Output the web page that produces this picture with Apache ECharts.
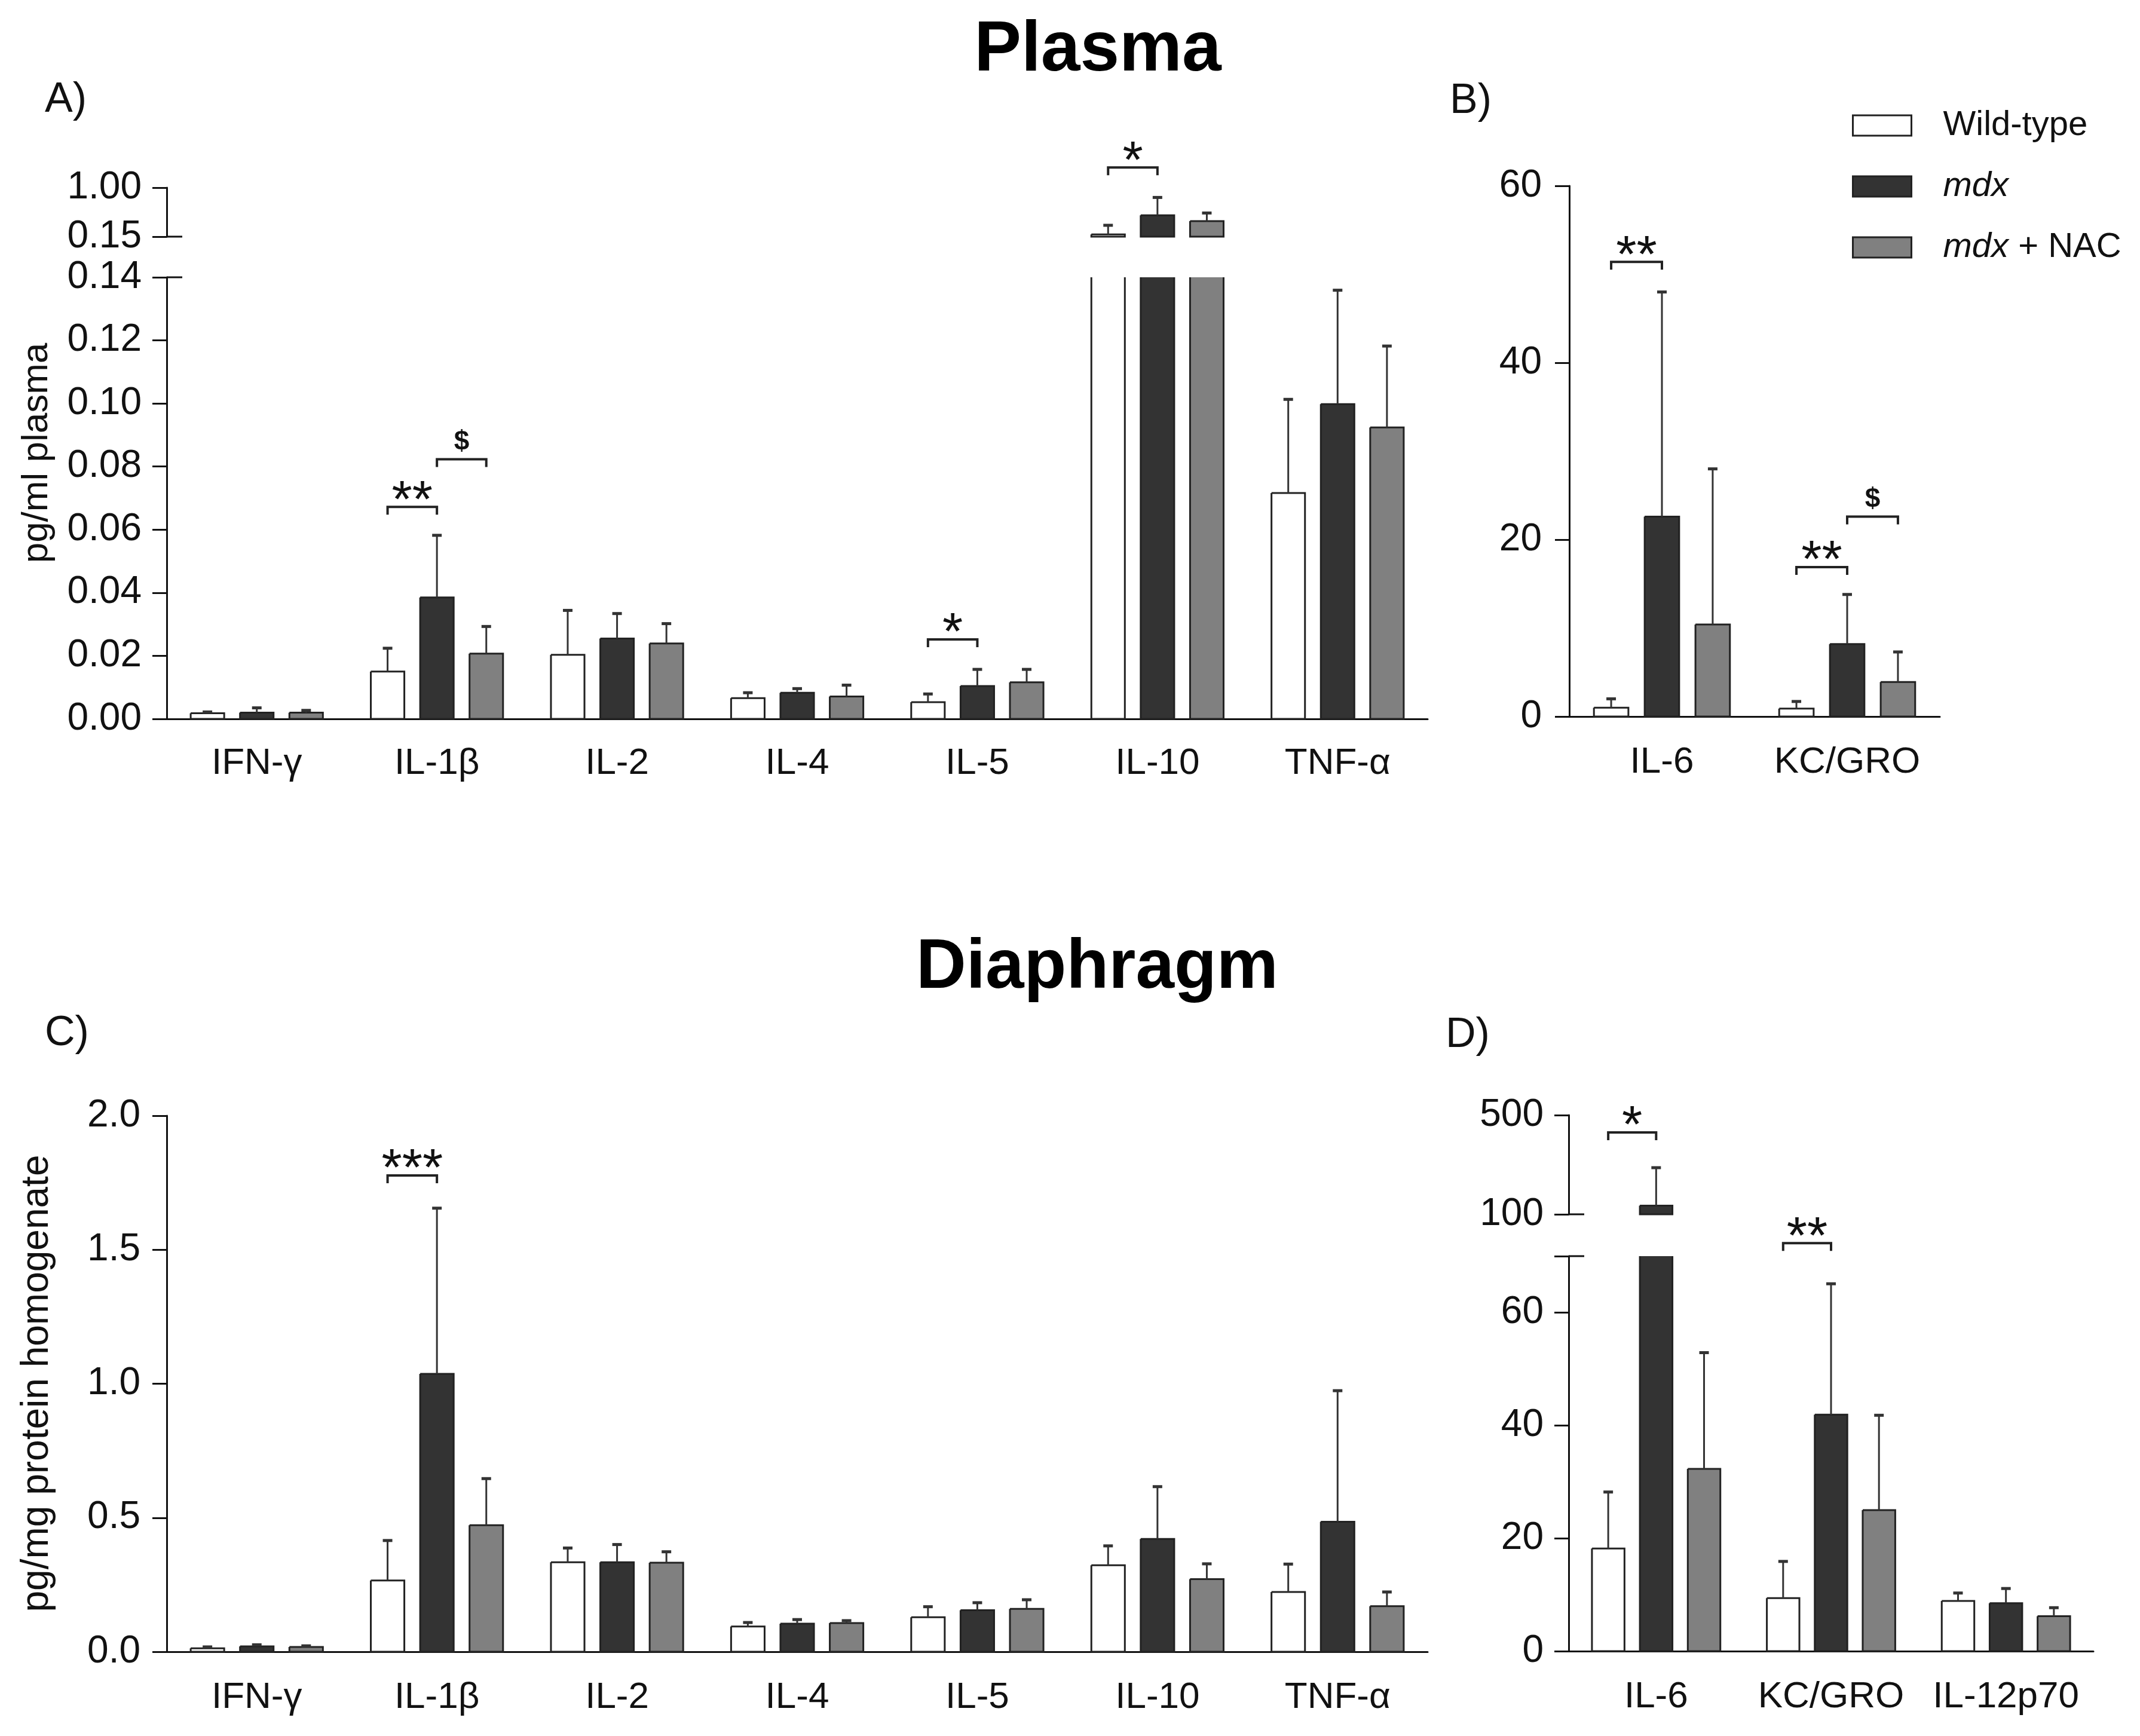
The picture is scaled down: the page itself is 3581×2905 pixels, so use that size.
<!DOCTYPE html>
<html>
<head>
    <meta charset="utf-8">
    <script src="https://cdn.jsdelivr.net/npm/echarts@6.0.0/dist/echarts.min.js"></script>
    <style type="text/css">
        html, body { margin: 0; padding: 0; background: #fff; }
        #main { width: 3581px; height: 2905px; }
    </style>
</head>
<body>
    <div id="main"></div>
    <script>
        // ---- data (mean and SD, error bar drawn upward only) ----
        var groupNames = ['Wild-type', 'mdx', 'mdx + NAC'];

        // Plasma, panel A (pg/ml plasma)
        var catsA = ['IFN-γ', 'IL-1β', 'IL-2', 'IL-4', 'IL-5', 'IL-10', 'TNF-α'];
        var wtA = [0.0018, 0.0150, 0.0203, 0.0066, 0.0053, 0.19, 0.0716];
        var wtA_sd = [0.0004, 0.0074, 0.0141, 0.0017, 0.0026, 0.157, 0.0297];
        var mdxA = [0.0020, 0.0385, 0.0255, 0.0083, 0.0104, 0.52, 0.0998];
        var mdxA_sd = [0.0015, 0.0197, 0.0079, 0.0013, 0.0053, 0.31, 0.0361];
        var nacA = [0.0020, 0.0207, 0.0239, 0.0071, 0.0116, 0.42, 0.0924];
        var nacA_sd = [0.0007, 0.0086, 0.0063, 0.0036, 0.0041, 0.14, 0.0258];

        // Plasma, panel B
        var catsB = ['IL-6', 'KC/GRO'];
        var wtB = [1.0, 0.9];
        var wtB_sd = [1.0, 0.8];
        var mdxB = [22.6, 8.2];
        var mdxB_sd = [25.4, 5.6];
        var nacB = [10.4, 3.9];
        var nacB_sd = [17.6, 3.4];

        // Diaphragm, panel C (pg/mg protein homogenate)
        var catsC = ['IFN-γ', 'IL-1β', 'IL-2', 'IL-4', 'IL-5', 'IL-10', 'TNF-α'];
        var wtC = [0.013, 0.266, 0.334, 0.094, 0.129, 0.323, 0.223];
        var wtC_sd = [0.005, 0.149, 0.053, 0.015, 0.039, 0.072, 0.104];
        var mdxC = [0.020, 1.037, 0.334, 0.105, 0.155, 0.421, 0.485];
        var mdxC_sd = [0.006, 0.618, 0.066, 0.015, 0.028, 0.195, 0.489];
        var nacC = [0.018, 0.472, 0.332, 0.107, 0.160, 0.271, 0.170];
        var nacC_sd = [0.004, 0.174, 0.041, 0.009, 0.034, 0.057, 0.053];

        // Diaphragm, panel D
        var catsD = ['IL-6', 'KC/GRO', 'IL-12p70'];
        var wtD = [18.2, 9.4, 8.9];
        var wtD_sd = [10.0, 6.5, 1.4];
        var mdxD = [135, 41.9, 8.5];
        var mdxD_sd = [153, 23.2, 2.6];
        var nacD = [32.3, 25.0, 6.2];
        var nacD_sd = [20.6, 16.8, 1.5];

        // significance brackets: [category, from group, to group, height, mark]
        var sigA = [[1, 0, 1, 0.0672, '**'], [1, 1, 2, 0.0823, '$'], [4, 0, 1, 0.0252, '*']];
        var sigAHigh = [[5, 0, 1, 1.35, '*']];
        var sigB = [[0, 0, 1, 51.4, '**'], [1, 0, 1, 16.9, '**'], [1, 1, 2, 22.6, '$']];
        var sigC = [[1, 0, 1, 1.777, '***']];
        var sigDLow = [[1, 0, 1, 72.3, '**']];
        var sigDHigh = [[0, 0, 1, 430, '*']];

        // axis breaks (value where a segment is cut)
        var breakA = [0.14, 0.15];
        var breakD = [70, 100];

        // ---- styling ----
        var FONT = 'Liberation Sans, Arial, sans-serif';
        var fills = ['#ffffff', '#333333', '#808080'];
        var EDGE = '#222';
        var BAR_W = 0.186;   // bar width as a share of the category band
        var BAR_STEP = 0.274; // distance between bar centres

        function clamp(v, a, b) { return Math.max(a, Math.min(b, v)); }

        function barRenderer(k) {
            return function (params, api) {
                var ci = api.value(0), v = api.value(1), hi = api.value(2);
                var cs = params.coordSys;
                var band = api.size([1, 0])[0];
                var w = band * BAR_W;
                var cx = api.coord([ci, 0])[0] + (k - 1) * band * BAR_STEP;
                var gTop = cs.y, gBot = cs.y + cs.height;
                var y0 = clamp(api.coord([ci, 0])[1], gTop, gBot);
                var yv = api.coord([ci, v])[1];
                var y1 = clamp(yv, gTop, gBot);
                if (y0 - y1 < 0.5) return null;
                var l = cx - w / 2, r = cx + w / 2;
                var kids = [{
                    type: 'rect',
                    shape: { x: l, y: y1, width: w, height: y0 - y1 },
                    style: { fill: fills[k], stroke: null }
                }];
                var pts = yv < gTop
                    ? [[l, y1], [l, y0], [r, y0], [r, y1]]       // cut by the break: open top
                    : [[l, y1], [l, y0], [r, y0], [r, y1], [l, y1]];
                kids.push({
                    type: 'polyline',
                    shape: { points: pts },
                    style: { stroke: EDGE, lineWidth: 3, fill: null }
                });
                if (yv >= gTop && hi > v) {
                    var yh = api.coord([ci, hi])[1];
                    kids.push({
                        type: 'line',
                        shape: { x1: cx, y1: y1, x2: cx, y2: yh },
                        style: { stroke: '#333', lineWidth: 3 }
                    });
                    kids.push({
                        type: 'line',
                        shape: { x1: cx - 8, y1: yh, x2: cx + 8, y2: yh },
                        style: { stroke: '#333', lineWidth: 5 }
                    });
                }
                return { type: 'group', children: kids };
            };
        }

        function bracketRenderer(list) {
            return function (params, api) {
                var b = list[params.dataIndex];
                var band = api.size([1, 0])[0];
                var c = api.coord([b[0], b[3]]);
                var xa = c[0] + (b[1] - 1) * band * BAR_STEP;
                var xb = c[0] + (b[2] - 1) * band * BAR_STEP;
                var y = c[1];
                var star = b[4] !== '$';
                return {
                    type: 'group',
                    children: [{
                        type: 'polyline',
                        shape: { points: [[xa, y + 13], [xa, y], [xb, y], [xb, y + 13]] },
                        style: { stroke: '#222', lineWidth: 4, fill: null }
                    }, {
                        type: 'text',
                        x: (xa + xb) / 2,
                        y: star ? y - 8 : y - 28,
                        style: {
                            text: b[4], fill: '#111', fontFamily: FONT,
                            fontSize: star ? 88 : 46, fontWeight: star ? 'normal' : 'bold',
                            align: 'center', verticalAlign: 'middle'
                        }
                    }]
                };
            };
        }

        function breakRenderer(params, api) {
            var cs = params.coordSys;
            var y = api.coord([0, api.value(1)])[1];
            return {
                type: 'line',
                shape: { x1: cs.x, y1: y, x2: cs.x + 26, y2: y },
                style: { stroke: '#111', lineWidth: 3 }
            };
        }

        function groupSeries(axis, cats, means, sds) {
            return groupNames.map(function (name, k) {
                return {
                    type: 'custom',
                    name: name,
                    xAxisIndex: axis, yAxisIndex: axis,
                    itemStyle: { color: fills[k], borderColor: EDGE, borderWidth: 3 },
                    renderItem: barRenderer(k),
                    data: cats.map(function (c, i) {
                        return [i, means[k][i], means[k][i] + sds[k][i]];
                    }),
                    silent: true
                };
            });
        }

        function bracketSeries(axis, list) {
            return {
                type: 'custom',
                xAxisIndex: axis, yAxisIndex: axis,
                renderItem: bracketRenderer(list),
                encode: { x: 0, y: 3 },
                data: list.map(function (b) { return [b[0], b[1], b[2], b[3]]; }),
                clip: false,
                silent: true
            };
        }

        function breakSeries(axis, v) {
            return {
                type: 'custom',
                xAxisIndex: axis, yAxisIndex: axis,
                renderItem: breakRenderer,
                data: [[0, v]],
                clip: false,
                silent: true
            };
        }

        function xAx(grid, cats, show, margin) {
            return {
                gridIndex: grid, type: 'category', data: cats, show: show,
                axisLine: { lineStyle: { color: '#111', width: 3 } },
                axisTick: { alignWithLabel: true, length: 24, lineStyle: { color: '#111', width: 3 } },
                axisLabel: { fontSize: 62, fontFamily: FONT, color: '#111', margin: margin, interval: 0, hideOverlap: false },
                splitLine: { show: false }
            };
        }

        function yAx(grid, min, max, interval, digits, margin, hideVal) {
            return {
                gridIndex: grid, type: 'value', min: min, max: max, interval: interval,
                axisLine: { show: true, lineStyle: { color: '#111', width: 3 } },
                axisTick: { show: true, length: 24, lineStyle: { color: '#111', width: 3 } },
                axisLabel: {
                    fontSize: 64, fontFamily: FONT, color: '#111', margin: margin,
                    formatter: function (v) {
                        if (hideVal !== undefined && Math.abs(v - hideVal) < 1e-9) return '';
                        return v.toFixed(digits);
                    }
                },
                splitLine: { show: false }
            };
        }

        var myChart = echarts.init(document.getElementById('main'), null, { renderer: 'canvas' });

        var series = [].concat(
            groupSeries(0, catsA, [wtA, mdxA, nacA], [wtA_sd, mdxA_sd, nacA_sd]),
            groupSeries(1, catsA, [wtA, mdxA, nacA], [wtA_sd, mdxA_sd, nacA_sd]),
            groupSeries(2, catsB, [wtB, mdxB, nacB], [wtB_sd, mdxB_sd, nacB_sd]),
            groupSeries(3, catsC, [wtC, mdxC, nacC], [wtC_sd, mdxC_sd, nacC_sd]),
            groupSeries(4, catsD, [wtD, mdxD, nacD], [wtD_sd, mdxD_sd, nacD_sd]),
            groupSeries(5, catsD, [wtD, mdxD, nacD], [wtD_sd, mdxD_sd, nacD_sd]),
            [
                bracketSeries(0, sigA), bracketSeries(1, sigAHigh), bracketSeries(2, sigB),
                bracketSeries(3, sigC), bracketSeries(4, sigDLow), bracketSeries(5, sigDHigh),
                breakSeries(0, breakA[0]), breakSeries(1, breakA[1]),
                breakSeries(4, breakD[0]), breakSeries(5, breakD[1])
            ]
        );

        var option = {
            animation: false,
            backgroundColor: '#fff',
            textStyle: { fontFamily: FONT },
            grid: [
                { left: 279, top: 464, width: 2110, height: 739 },   // A, lower segment
                { left: 279, top: 314, width: 2110, height: 82 },    // A, upper segment
                { left: 2626, top: 311, width: 620, height: 888 },   // B
                { left: 279, top: 1867, width: 2110, height: 897 },  // C
                { left: 2625, top: 2102, width: 878, height: 661 },  // D, lower segment
                { left: 2625, top: 1866, width: 878, height: 166 }   // D, upper segment
            ],
            xAxis: [
                xAx(0, catsA, true, 44),
                xAx(1, catsA, false, 44),
                xAx(2, catsB, true, 46),
                xAx(3, catsC, true, 46),
                xAx(4, catsD, true, 46),
                xAx(5, catsD, false, 46)
            ],
            yAxis: [
                yAx(0, 0, 0.14, 0.02, 2, 42),
                yAx(1, 0.15, 1.00, 0.85, 2, 42),
                yAx(2, 0, 60, 20, 0, 46),
                yAx(3, 0, 2, 0.5, 1, 44),
                yAx(4, 0, 70, 20, 0, 42, 70),
                yAx(5, 100, 500, 400, 0, 42)
            ],
            legend: {
                orient: 'vertical',
                left: 3094, top: 175,
                itemWidth: 98, itemHeight: 34, itemGap: 42,
                icon: 'rect',
                selectedMode: false,
                data: groupNames.map(function (n, k) {
                    return { name: n, itemStyle: { color: fills[k], borderColor: EDGE, borderWidth: 3 } };
                }),
                formatter: function (name) {
                    if (name === 'Wild-type') return '{s| }{n|Wild-type}';
                    if (name === 'mdx') return '{s| }{i|mdx}';
                    return '{s| }{i|mdx}{n| + NAC}';
                },
                textStyle: {
                    fontFamily: FONT, fontSize: 58, lineHeight: 60, color: '#111',
                    rich: {
                        s: { width: 48 },
                        n: { fontSize: 58, fontFamily: FONT, color: '#111' },
                        i: { fontSize: 58, fontFamily: FONT, fontStyle: 'italic', color: '#111' }
                    }
                }
            },
            graphic: [
                { type: 'text', x: 1837, y: 85, style: { text: 'Plasma', fontSize: 118, fontWeight: 'bold', fontFamily: FONT, fill: '#000', align: 'center', verticalAlign: 'middle' } },
                { type: 'text', x: 1836, y: 1621, style: { text: 'Diaphragm', fontSize: 116, fontWeight: 'bold', fontFamily: FONT, fill: '#000', align: 'center', verticalAlign: 'middle' } },
                { type: 'text', x: 75, y: 168, style: { text: 'A)', fontSize: 70, fontFamily: FONT, fill: '#111', align: 'left', verticalAlign: 'middle' } },
                { type: 'text', x: 2426, y: 170, style: { text: 'B)', fontSize: 70, fontFamily: FONT, fill: '#111', align: 'left', verticalAlign: 'middle' } },
                { type: 'text', x: 75, y: 1730, style: { text: 'C)', fontSize: 70, fontFamily: FONT, fill: '#111', align: 'left', verticalAlign: 'middle' } },
                { type: 'text', x: 2419, y: 1733, style: { text: 'D)', fontSize: 70, fontFamily: FONT, fill: '#111', align: 'left', verticalAlign: 'middle' } },
                { type: 'text', x: 62, y: 758, rotation: Math.PI / 2, style: { text: 'pg/ml plasma', fontSize: 62, fontFamily: FONT, fill: '#111', align: 'center', verticalAlign: 'middle' } },
                { type: 'text', x: 62, y: 2315, rotation: Math.PI / 2, style: { text: 'pg/mg protein homogenate', fontSize: 64, fontFamily: FONT, fill: '#111', align: 'center', verticalAlign: 'middle' } }
            ],
            series: series
        };

        myChart.setOption(option);
    </script>
</body>
</html>
